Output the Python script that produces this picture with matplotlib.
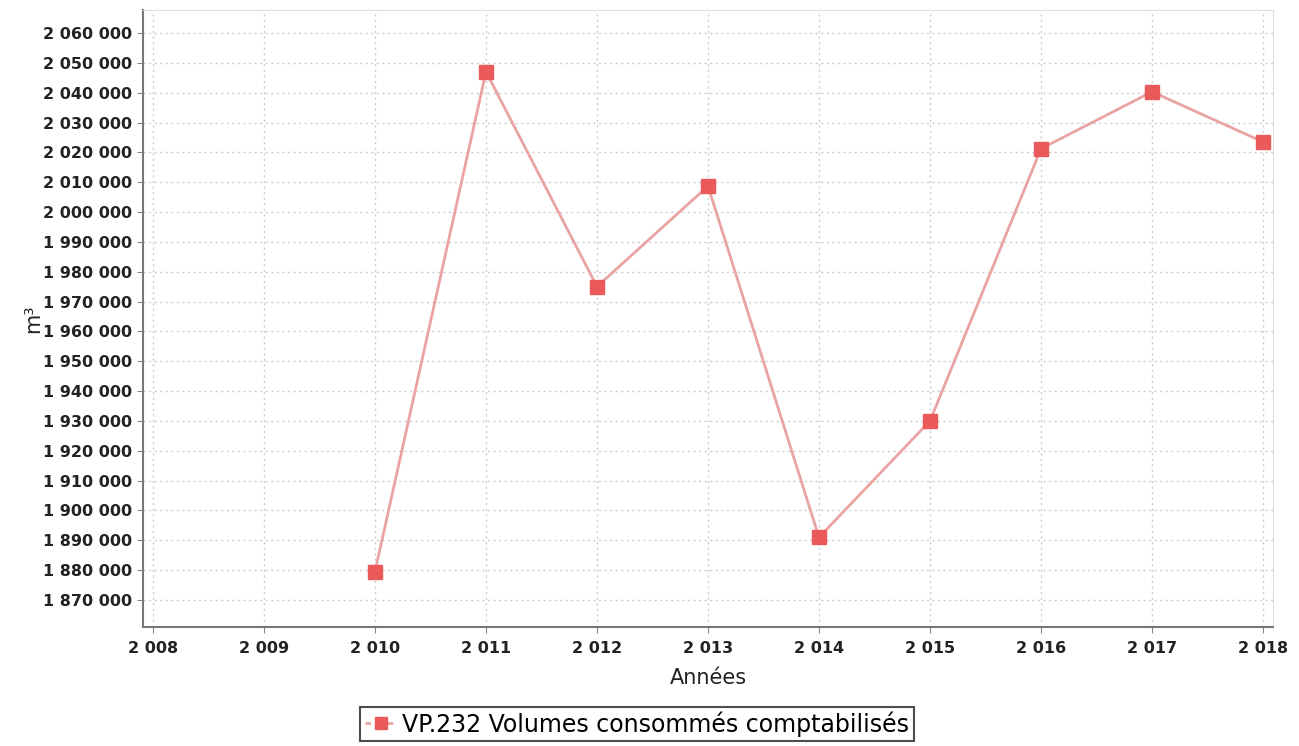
import matplotlib.pyplot as plt
from matplotlib.ticker import FuncFormatter
from matplotlib.lines import Line2D

# Données
annees = [2010, 2011, 2012, 2013, 2014, 2015, 2016, 2017, 2018]
volumes = [1879500, 2047000, 1975000, 2008700, 1891000, 1930000, 2021200, 2040300, 2023500]
serie = "VP.232 Volumes consommés comptabilisés"


def milliers(v, pos):
    return f"{int(round(v)):,}".replace(",", " ")


fig = plt.figure(figsize=(12.99, 7.46), dpi=100)
ax = fig.add_axes([143 / 1299, 1 - 627 / 746, (1273 - 143) / 1299, (627 - 10) / 746])

ax.plot(annees, volumes, color="#eaa3a3", lw=2, marker="s", ms=10.5,
        mfc="#ea5a5a", mec="#ea5a5a")

ax.set_xlim(2007.91, 2018.09)
ax.set_ylim(1860950, 2067700)
ax.set_xticks(range(2008, 2019))
ax.set_yticks(range(1870000, 2060001, 10000))
ax.xaxis.set_major_formatter(FuncFormatter(milliers))
ax.yaxis.set_major_formatter(FuncFormatter(milliers))
ax.tick_params(labelsize=11.5, length=4, color="#888888", colors="#222222")
ax.tick_params(axis="x", pad=6)
for lab in ax.get_xticklabels() + ax.get_yticklabels():
    lab.set_fontweight("bold")

ax.grid(True, color="#cccccc", linestyle=(0, (1.5, 2.5)), lw=1)
for s in ["left", "bottom"]:
    ax.spines[s].set_color("#777777")
    ax.spines[s].set_linewidth(1.5)
for s in ["top", "right"]:
    ax.spines[s].set_color("#dddddd")

ax.set_xlabel("Années", fontsize=15, color="#222222", labelpad=9)
ax.set_ylabel("m³", fontsize=15, color="#222222", labelpad=0)

poignee = Line2D([], [], color="#eaa3a3", lw=2, ls=(0, (2, 2)), marker="s", ms=8,
                 mfc="#ea5a5a", mec="#ea5a5a")
leg = fig.legend([poignee], [serie], loc="center", bbox_to_anchor=(637 / 1299, 1 - 724 / 746),
                 fontsize=17, frameon=True, fancybox=False, edgecolor="#222222",
                 handlelength=1.4, handletextpad=0.2, borderpad=0.2, borderaxespad=0)
leg.get_frame().set_linewidth(1.5)

fig.savefig("out.png", dpi=100)
